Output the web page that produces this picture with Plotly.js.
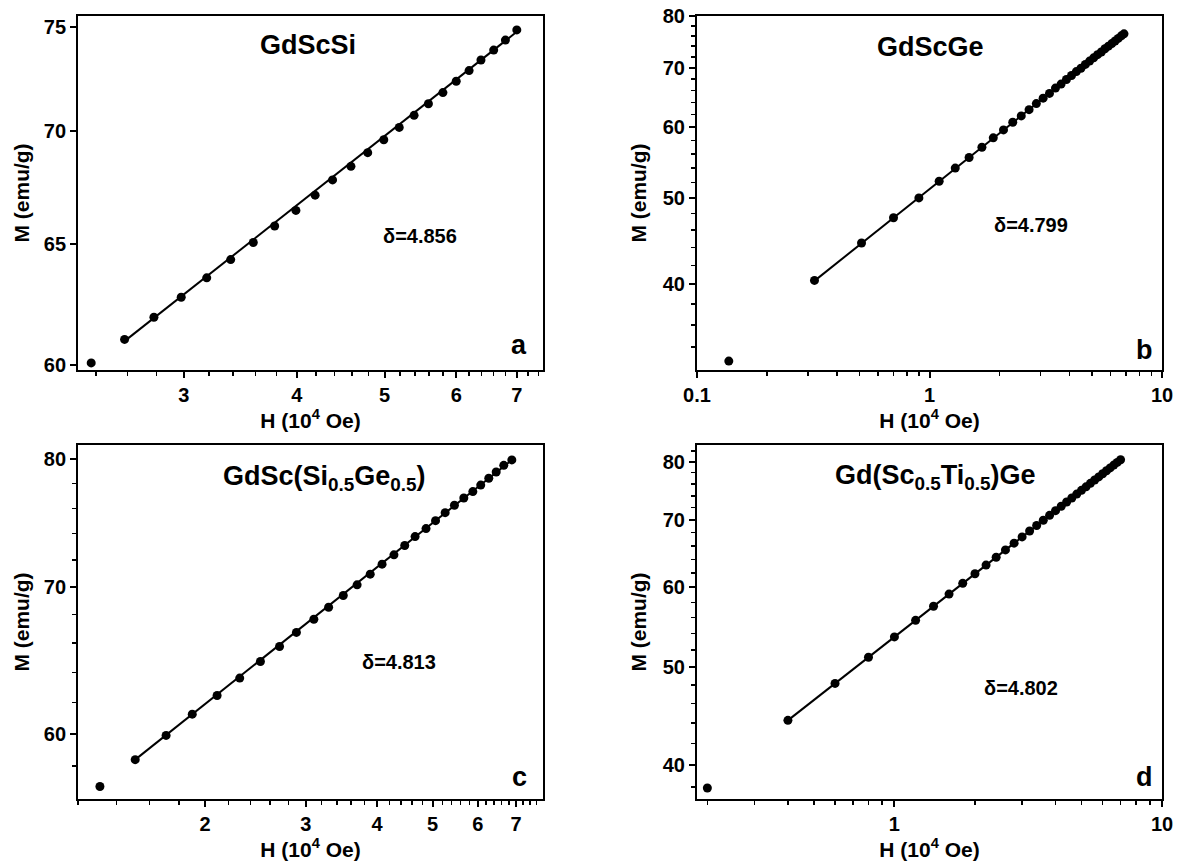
<!DOCTYPE html>
<html>
<head>
<meta charset="utf-8">
<script src="https://cdn.plot.ly/plotly-3.0.1.min.js"></script>
<style>html,body{margin:0;padding:0;background:#fff;}#chart{width:1186px;height:865px;}</style>
</head>
<body>
<div id="chart"></div>
<script>
// ---- Panel a: GdScSi ----
const H_a = [2.37, 2.58, 2.78, 2.98, 3.18, 3.38, 3.58, 3.78, 3.99, 4.19, 4.38, 4.59, 4.79, 4.99, 5.19, 5.39, 5.59, 5.80, 6.00, 6.20, 6.39, 6.60, 6.80, 7.00];
const M_a = [60.08, 61.02, 61.92, 62.74, 63.55, 64.32, 65.05, 65.76, 66.44, 67.11, 67.79, 68.40, 69.02, 69.61, 70.18, 70.74, 71.28, 71.81, 72.35, 72.86, 73.37, 73.85, 74.34, 74.84];
const fitH_a = [2.58, 7.00];
const fitM_a = [60.95, 74.75];

// ---- Panel b: GdScGe ----
const H_b = [0.137, 0.32, 0.51, 0.70, 0.90, 1.10, 1.29, 1.48, 1.68, 1.88, 2.08, 2.28, 2.48, 2.68, 2.88, 3.08, 3.28, 3.48, 3.68, 3.88, 4.08, 4.28, 4.48, 4.68, 4.88, 5.08, 5.28, 5.48, 5.68, 5.88, 6.08, 6.28, 6.48, 6.68, 6.86];
const M_b = [32.8, 40.4, 44.5, 47.5, 50.0, 52.2, 54.0, 55.5, 57.0, 58.4, 59.6, 60.8, 61.8, 62.8, 63.8, 64.7, 65.5, 66.4, 67.1, 67.9, 68.6, 69.3, 69.9, 70.6, 71.2, 71.8, 72.4, 72.9, 73.5, 74.0, 74.5, 75.0, 75.5, 76.0, 76.4];
const fitH_b = [0.32, 6.86];
const fitM_b = [40.35, 76.4];

// ---- Panel c: GdSc(Si0.5Ge0.5) ----
const H_c = [1.31, 1.51, 1.71, 1.90, 2.10, 2.30, 2.50, 2.70, 2.89, 3.10, 3.29, 3.49, 3.69, 3.89, 4.08, 4.28, 4.47, 4.66, 4.87, 5.06, 5.26, 5.46, 5.67, 5.88, 6.07, 6.27, 6.46, 6.66, 6.88];
const M_c = [56.78, 58.40, 59.90, 61.25, 62.46, 63.61, 64.73, 65.75, 66.73, 67.66, 68.51, 69.36, 70.14, 70.93, 71.68, 72.38, 73.09, 73.78, 74.40, 75.02, 75.65, 76.24, 76.82, 77.34, 77.87, 78.43, 78.95, 79.50, 79.95];
const fitH_c = [1.51, 6.88];
const fitM_c = [58.40, 79.95];

// ---- Panel d: Gd(Sc0.5Ti0.5)Ge ----
const H_d = [0.2, 0.4, 0.6, 0.8, 1.0, 1.2, 1.4, 1.6, 1.8, 2.0, 2.2, 2.4, 2.6, 2.8, 3.0, 3.2, 3.4, 3.6, 3.8, 4.0, 4.2, 4.4, 4.6, 4.8, 5.0, 5.2, 5.4, 5.6, 5.8, 6.0, 6.2, 6.4, 6.6, 6.8, 7.0];
const M_d = [37.93, 44.28, 48.18, 51.15, 53.59, 55.66, 57.48, 59.10, 60.57, 61.91, 63.15, 64.30, 65.38, 66.40, 67.36, 68.27, 69.14, 69.97, 70.76, 71.52, 72.25, 72.95, 73.63, 74.28, 74.92, 75.53, 76.13, 76.71, 77.26, 77.82, 78.35, 78.87, 79.38, 79.87, 80.35];
const fitH_d = [0.4, 7.0];
const fitM_d = [44.28, 80.35];

// ---- Labels ----
const panelTitles = ["GdScSi", "GdScGe", "GdSc(Si<sub>0.5</sub>Ge<sub>0.5</sub>)", "Gd(Sc<sub>0.5</sub>Ti<sub>0.5</sub>)Ge"];
const deltaLabels = ["δ=4.856", "δ=4.799", "δ=4.813", "δ=4.802"];
const panelLetters = ["a", "b", "c", "d"];
const xTitle = "H (10<sup>4</sup> Oe)";
const yTitle = "M (emu/g)";

// tick labels
const xTicks_a = [3, 4, 5, 6, 7];
const xMinor_a = [2.4, 2.6, 2.8, 3.2, 3.4, 3.6, 3.8, 4.2, 4.4, 4.6, 4.8, 5.2, 5.4, 5.6, 5.8, 6.2, 6.4, 6.6, 6.8, 7.2, 7.4];
const yTicks_a = [60, 65, 70, 75];
const xTicks_b = [0.1, 1, 10];
const xTickText_b = ["0.1", "1", "10"];
const xMinor_bd = [0.2, 0.3, 0.4, 0.5, 0.6, 0.7, 0.8, 0.9, 2, 3, 4, 5, 6, 7, 8, 9];
const yTicks_bd = [40, 50, 60, 70, 80];
const yMinor_b = [34, 36, 38, 42, 44, 46, 48, 52, 54, 56, 58, 62, 64, 66, 68, 72, 74, 76, 78];
const xTicks_c = [2, 3, 4, 5, 6, 7];
const xMinor_c = [1.2, 1.4, 1.6, 1.8, 2.2, 2.4, 2.6, 2.8, 3.2, 3.4, 3.6, 3.8, 4.2, 4.4, 4.6, 4.8, 5.2, 5.4, 5.6, 5.8, 6.2, 6.4, 6.6, 6.8, 7.2, 7.4, 7.6];
const yTicks_c = [60, 70, 80];
const yMinor_c = [58, 62, 64, 66, 68, 72, 74, 76, 78];
const xTicks_d = [1, 10];
const yMinor_d = [38, 42, 44, 46, 48, 52, 54, 56, 58, 62, 64, 66, 68, 72, 74, 76, 78, 82];

const FONT = "Liberation Sans, Arial, sans-serif";

function panelTraces(H, M, fH, fM, xa, ya) {
  return [
    {x: fH, y: fM, xaxis: xa, yaxis: ya, mode: "lines", type: "scatter",
     line: {color: "#000", width: 2}, hoverinfo: "skip", showlegend: false},
    {x: H, y: M, xaxis: xa, yaxis: ya, mode: "markers", type: "scatter",
     marker: {color: "#000", size: 9}, showlegend: false}
  ];
}

const traces = [].concat(
  panelTraces(H_a, M_a, fitH_a, fitM_a, "x", "y"),
  panelTraces(H_b, M_b, fitH_b, fitM_b, "x2", "y2"),
  panelTraces(H_c, M_c, fitH_c, fitM_c, "x3", "y3"),
  panelTraces(H_d, M_d, fitH_d, fitM_d, "x4", "y4")
);

function xAxis(domain, anchor, range, tv, tt, minor) {
  return {
    type: "log", domain: domain, anchor: anchor, range: range,
    tickmode: "array", tickvals: tv, ticktext: tt || tv.map(String),
    ticks: "outside", ticklen: 6, tickwidth: 2, tickcolor: "#000",
    showline: true, linewidth: 2, linecolor: "#000", mirror: true,
    showgrid: false, zeroline: false,
    tickfont: {family: FONT, size: 20, color: "#000", weight: 700},
    title: {text: xTitle, standoff: 1, font: {family: FONT, size: 21, color: "#000", weight: 700}},
    minor: {tickmode: "array", tickvals: minor, ticks: "outside", ticklen: 4, tickwidth: 1.5, tickcolor: "#000", showgrid: false},
    automargin: false
  };
}
function yAxis(domain, anchor, range, tv, minor, standoff) {
  const ax = {
    type: "log", domain: domain, anchor: anchor, range: range,
    tickmode: "array", tickvals: tv, ticktext: tv.map(String),
    ticks: "outside", ticklen: 6, tickwidth: 2, tickcolor: "#000",
    showline: true, linewidth: 2, linecolor: "#000", mirror: true,
    showgrid: false, zeroline: false,
    tickfont: {family: FONT, size: 20, color: "#000", weight: 700},
    title: {text: yTitle, standoff: standoff, font: {family: FONT, size: 21, color: "#000", weight: 700}},
    automargin: false
  };
  if (minor) ax.minor = {tickmode: "array", tickvals: minor, ticks: "outside", ticklen: 4, tickwidth: 1.5, tickcolor: "#000", showgrid: false};
  return ax;
}

const dxL = [0.0658, 0.4578];
const dxR = [0.5877, 0.9798];
const dyT = [0.5723, 0.9815];
const dyB = [0.0763, 0.4855];

const layout = {
  width: 1186, height: 865,
  margin: {l: 0, r: 0, t: 0, b: 0},
  paper_bgcolor: "#fff", plot_bgcolor: "#fff",
  showlegend: false,
  font: {family: FONT, color: "#000"},
  xaxis:  xAxis(dxL, "y",  [0.3602, 0.874], xTicks_a, null, xMinor_a),
  yaxis:  yAxis(dyT, "x",  [1.77672, 1.87812], yTicks_a, null, 8),
  xaxis2: xAxis(dxR, "y2", [-1, 1], xTicks_b, xTickText_b, xMinor_bd),
  yaxis2: yAxis(dyT, "x2", [1.5059, 1.9031], yTicks_bd, yMinor_b, 10),
  xaxis3: xAxis(dxL, "y3", [0.079, 0.892], xTicks_c, null, xMinor_c),
  yaxis3: yAxis(dyB, "x3", [1.7485, 1.9096], yTicks_c, yMinor_c, 8),
  xaxis4: xAxis(dxR, "y4", [-0.7376, 1], xTicks_d, null, xMinor_bd),
  yaxis4: yAxis(dyB, "x4", [1.5681, 1.9196], yTicks_bd, yMinor_d, 10),
  annotations: []
};

const axRefs = [["x", "y"], ["x2", "y2"], ["x3", "y3"], ["x4", "y4"]];
const titlePos = [[0.494, 0.918], [0.502, 0.912], [0.53, 0.907], [0.513, 0.91]];
const deltaPos = [[0.735, 0.379], [0.718, 0.41], [0.691, 0.387], [0.697, 0.315]];
const letterPos = [[0.949, 0.07], [0.963, 0.056], [0.949, 0.062], [0.963, 0.062]];

for (let i = 0; i < 4; i++) {
  const xr = axRefs[i][0] + " domain", yr = axRefs[i][1] + " domain";
  layout.annotations.push({xref: xr, yref: yr, x: titlePos[i][0], y: titlePos[i][1], text: panelTitles[i],
    showarrow: false, xanchor: "center", yanchor: "middle", font: {family: FONT, size: 27, color: "#000", weight: 700}});
  layout.annotations.push({xref: xr, yref: yr, x: deltaPos[i][0], y: deltaPos[i][1], text: deltaLabels[i],
    showarrow: false, xanchor: "center", yanchor: "middle", font: {family: FONT, size: 20, color: "#000", weight: 700}});
  layout.annotations.push({xref: xr, yref: yr, x: letterPos[i][0], y: letterPos[i][1], text: panelLetters[i],
    showarrow: false, xanchor: "center", yanchor: "middle", font: {family: FONT, size: 27, color: "#000", weight: 700}});
}

Plotly.newPlot("chart", traces, layout, {staticPlot: true, displayModeBar: false});
</script>
</body>
</html>
